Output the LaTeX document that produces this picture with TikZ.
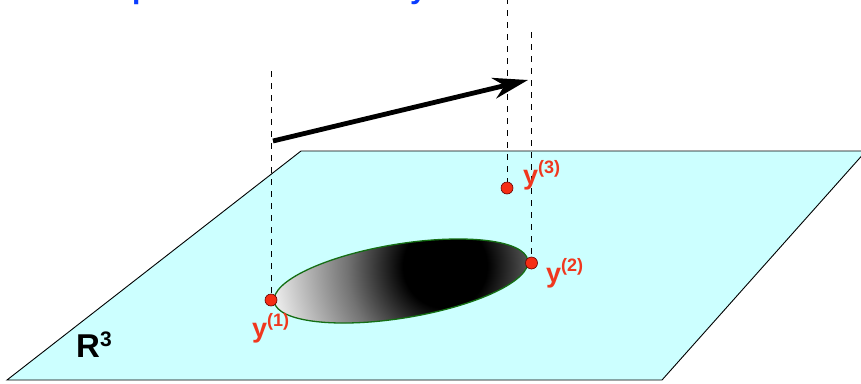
\documentclass[tikz,border=0pt]{standalone}
\usepackage{fontspec}
\setmainfont{Liberation Sans}
\usetikzlibrary{arrows.meta,shapes.geometric}
\definecolor{planecyan}{RGB}{204,255,255}
\definecolor{ptred}{RGB}{245,45,20}
\definecolor{labred}{RGB}{240,55,30}
\definecolor{rimgreen}{RGB}{20,110,20}
\definecolor{titleblue}{RGB}{10,60,255}
\pgfdeclareradialshading{blob}{\pgfpoint{0bp}{0bp}}{color(0bp)=(black); color(6bp)=(black); color(14bp)=(black!55); color(25bp)=(white!94!black); color(50bp)=(white)}
\begin{document}
\begin{tikzpicture}[x=1pt,y=-1pt,
 plane/.style={fill=planecyan, draw=black, line width=0.9pt, line join=miter},
 guide/.style={draw=black, line width=1pt, dash pattern=on 6pt off 6pt},
 dot/.style={circle, fill=ptred, draw=black!60!red, line width=0.6pt, minimum size=12pt, inner sep=0pt},
 lab/.style={text=labred, font=\fontsize{27}{27}\selectfont\bfseries, anchor=base west, inner sep=0pt},
 title/.style={text=titleblue, font=\fontsize{30}{30}\selectfont\bfseries, anchor=base west, inner sep=0pt},
 rim/.style={ellipse, draw=rimgreen, line width=1.3pt, inner sep=0pt},
 bigarrow/.style={line width=4.8pt, -{Stealth[length=35pt, width=21pt, inset=11pt]}},
]
\useasboundingbox (0,0) rectangle (861,383);
\clip (0,0) rectangle (861,383);
% title fragments (cut off at top)
\node[title] (tp) at (132,-2) {p};
\node[title] (ty) at (410,-2) {y};
% plane
\path[plane] (301,151) -- (866,151) -- (662,380) -- (7,380) -- cycle;
% shaded ellipse
\begin{scope}
\clip[rotate around={9.3:(401,281)}] (401,281) ellipse (128.5 and 37);
\shade[shading=blob] (445,266) circle (175);
\end{scope}
\node[rim, rotate=9.3, minimum width=257pt, minimum height=74pt] (blob) at (401,281) {};
% coordinates
\coordinate (t1) at (271,71);
\coordinate (t2) at (531.5,32);
\coordinate (t3) at (507,-2);
\coordinate (c1) at (271,300);
\coordinate (c2) at (531.5,263);
\coordinate (c3) at (507,188);
\draw[guide] (t1) -- (c1);
\draw[guide] (t2) -- (c2);
\draw[guide] (t3) -- (c3);
\node[dot] (p1) at (c1) {};
\node[dot] (p2) at (c2) {};
\node[dot] (p3) at (c3) {};
% arrow
\coordinate (a0) at (273,141);
\coordinate (a1) at (528,80);
\draw[bigarrow] (a0) -- (a1);
% labels
\node[lab] (l1) at (252,337) {y\raisebox{11pt}{\fontsize{18}{18}\selectfont(1)}};
\node[lab] (l2) at (546,282) {y\raisebox{11pt}{\fontsize{18}{18}\selectfont(2)}};
\node[lab] (l3) at (523,184) {y\raisebox{11pt}{\fontsize{18}{18}\selectfont(3)}};
\node[anchor=base west, inner sep=0pt, font=\fontsize{33}{33}\selectfont\bfseries] (r3) at (76,357) {R\raisebox{11pt}{\fontsize{21}{21}\selectfont 3}};
\end{tikzpicture}
\end{document}
